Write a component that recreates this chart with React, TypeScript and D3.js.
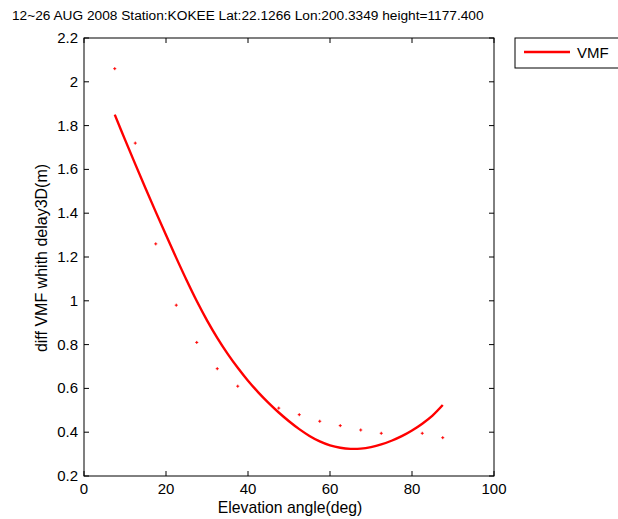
import React from "react";
import * as d3 from "d3";

const title = "12~26 AUG 2008 Station:KOKEE Lat:22.1266 Lon:200.3349 height=1177.400";
const xLabel = "Elevation angle(deg)";
const yLabel = "diff VMF whith delay3D(m)";
const legendLabel = "VMF";

const xTicks = [0, 20, 40, 60, 80, 100];
const yTicks = [0.2, 0.4, 0.6, 0.8, 1, 1.2, 1.4, 1.6, 1.8, 2, 2.2];

// scatter points (diff per elevation bin)
const dotElev = [7.5, 12.5, 17.5, 22.5, 27.5, 32.5, 37.5, 47.5, 52.5, 57.5, 62.5, 67.5, 72.5, 82.5, 87.5];
const dotVal = [2.06, 1.72, 1.26, 0.98, 0.81, 0.69, 0.61, 0.51, 0.48, 0.45, 0.43, 0.41, 0.395, 0.395, 0.375];

// fitted VMF curve
const curveElev = [7.5, 10, 12.5, 15, 17.5, 20, 22.5, 25, 27.5, 30, 32.5, 35, 37.5, 40, 42.5, 45, 47.5, 50, 52.5, 55, 57.5, 60, 62.5, 65, 67.5, 70, 72.5, 75, 77.5, 80, 82.5, 85, 87.5];
const curveVal = [1.85, 1.736, 1.624, 1.514, 1.406, 1.3, 1.196, 1.095, 0.999, 0.911, 0.831, 0.759, 0.694, 0.635, 0.582, 0.534, 0.49, 0.45, 0.414, 0.383, 0.358, 0.34, 0.329, 0.324, 0.325, 0.332, 0.344, 0.361, 0.382, 0.408, 0.439, 0.476, 0.524];

const W = 618;
const H = 519;
const left = 84;
const right = 494;
const top = 38;
const bottom = 476;
const font = "'Liberation Sans', Arial, sans-serif";

export default function App() {
  const x = d3.scaleLinear().domain([0, 100]).range([left, right]);
  const y = d3.scaleLinear().domain([0.2, 2.2]).range([bottom, top]);
  const line = d3
    .line<number>()
    .x((_, i) => x(curveElev[i]))
    .y((d) => y(d))
    .curve(d3.curveCatmullRom);
  const red = "#ff0000";
  const tickLen = 5;
  return (
    <svg
      width={W}
      height={H}
      style={{ position: "absolute", left: 0, top: 0, background: "#fff" }}
      fontFamily={font}
    >
      <rect x={0} y={0} width={W} height={H} fill="#fff" />
      <text x={12} y={20} fontSize={13.7} fill="#000">
        {title}
      </text>
      {/* axes box */}
      <rect x={left} y={top} width={right - left} height={bottom - top} fill="#fff" stroke="#000" strokeWidth={1} />
      {/* curve */}
      <path d={line(curveVal) || ""} fill="none" stroke={red} strokeWidth={2.4} />
      {/* dots */}
      {dotVal.map((v, i) => (
        <g key={i} stroke={red} strokeWidth={1}>
          <line x1={x(dotElev[i]) - 1.5} x2={x(dotElev[i]) + 1.5} y1={y(v)} y2={y(v)} />
          <line x1={x(dotElev[i])} x2={x(dotElev[i])} y1={y(v) - 1.5} y2={y(v) + 1.5} />
        </g>
      ))}
      {/* x ticks */}
      {xTicks.map((t) => (
        <g key={"x" + t}>
          <line x1={x(t)} x2={x(t)} y1={bottom} y2={bottom - tickLen} stroke="#000" />
          <line x1={x(t)} x2={x(t)} y1={top} y2={top + tickLen} stroke="#000" />
          <text x={x(t)} y={bottom + 18} fontSize={15} textAnchor="middle" fill="#000">
            {t}
          </text>
        </g>
      ))}
      {/* y ticks */}
      {yTicks.map((t) => (
        <g key={"y" + t}>
          <line x1={left} x2={left + tickLen} y1={y(t)} y2={y(t)} stroke="#000" />
          <line x1={right} x2={right - tickLen} y1={y(t)} y2={y(t)} stroke="#000" />
          <text x={left - 6} y={y(t) + 5} fontSize={15} textAnchor="end" fill="#000">
            {String(t)}
          </text>
        </g>
      ))}
      <text x={290} y={513} fontSize={15.75} textAnchor="middle" fill="#000">
        {xLabel}
      </text>
      <text
        transform={`translate(47, 258) rotate(-90)`}
        fontSize={16}
        textAnchor="middle"
        fill="#000"
      >
        {yLabel}
      </text>
      {/* legend */}
      <rect x={515} y={38} width={110} height={30} fill="#fff" stroke="#000" />
      <line x1={524} x2={570} y1={52} y2={52} stroke={red} strokeWidth={2.4} />
      <text x={577} y={58} fontSize={15} fill="#000">
        {legendLabel}
      </text>
    </svg>
  );
}
